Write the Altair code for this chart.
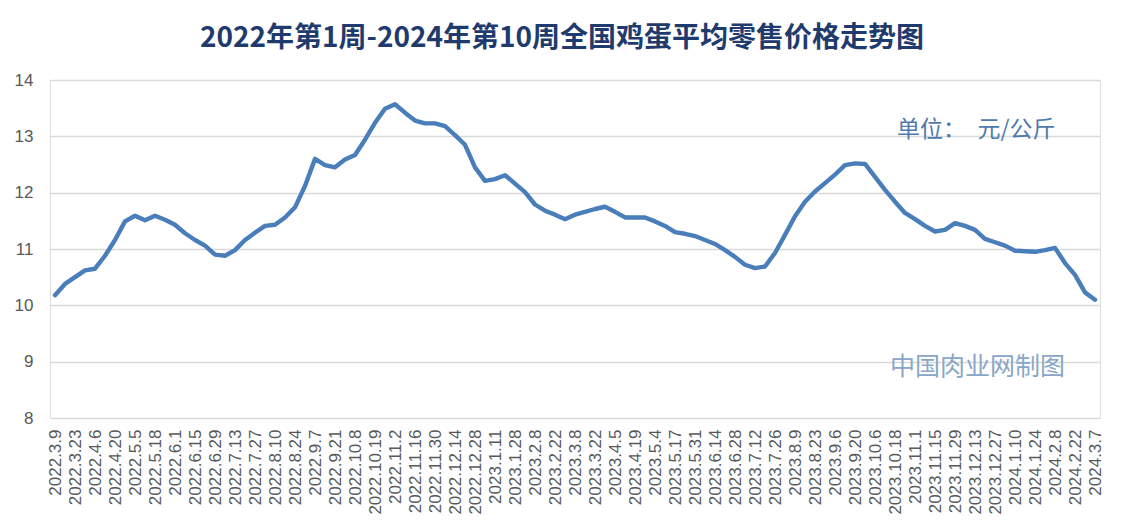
import json
import altair as alt
import pandas as pd

# Tick labels shown on the category axis (every second week)
tick_labels = [
    "2022.3.9", "2022.3.23", "2022.4.6", "2022.4.20", "2022.5.5", "2022.5.18",
    "2022.6.1", "2022.6.15", "2022.6.29", "2022.7.13", "2022.7.27", "2022.8.10",
    "2022.8.24", "2022.9.7", "2022.9.21", "2022.10.8", "2022.10.19", "2022.11.2",
    "2022.11.16", "2022.11.30", "2022.12.14", "2022.12.28", "2023.1.11", "2023.1.28",
    "2023.2.8", "2023.2.22", "2023.3.8", "2023.3.22", "2023.4.5", "2023.4.19",
    "2023.5.4", "2023.5.17", "2023.5.31", "2023.6.14", "2023.6.28", "2023.7.12",
    "2023.7.26", "2023.8.9", "2023.8.23", "2023.9.6", "2023.9.20", "2023.10.6",
    "2023.10.18", "2023.11.1", "2023.11.15", "2023.11.29", "2023.12.13", "2023.12.27",
    "2024.1.10", "2024.1.24", "2024.2.8", "2024.2.22", "2024.3.7",
]

# Weekly national average retail egg price (yuan / kg), 105 weeks
prices = [
    10.18, 10.38, 10.50, 10.62, 10.65, 10.88, 11.16, 11.49, 11.59, 11.51,
    11.59, 11.52, 11.43, 11.28, 11.16, 11.06, 10.90, 10.88, 10.98, 11.16,
    11.29, 11.41, 11.43, 11.56, 11.74, 12.12, 12.60, 12.49, 12.45, 12.59,
    12.67, 12.94, 13.24, 13.49, 13.57, 13.42, 13.28, 13.23, 13.23, 13.18,
    13.02, 12.85, 12.45, 12.21, 12.24, 12.31, 12.16, 12.01, 11.79, 11.68,
    11.61, 11.53, 11.61, 11.66, 11.71, 11.75, 11.66, 11.56, 11.56, 11.56,
    11.49, 11.41, 11.30, 11.27, 11.23, 11.16, 11.09, 10.98, 10.86, 10.72,
    10.66, 10.69, 10.93, 11.25, 11.58, 11.84, 12.02, 12.17, 12.32, 12.49,
    12.52, 12.51, 12.28, 12.05, 11.84, 11.64, 11.53, 11.41, 11.31, 11.34,
    11.46, 11.41, 11.34, 11.18, 11.12, 11.06, 10.97, 10.96, 10.95, 10.98,
    11.02, 10.75, 10.54, 10.23, 10.10,
]

title_text = "2022年第1周-2024年第10周全国鸡蛋平均零售价格走势图"
unit_text = "单位：\u3000元/公斤"
source_text = "中国肉业网制图"

df = pd.DataFrame({"week": list(range(len(prices))), "price": prices})

label_expr = json.dumps(tick_labels) + "[round(datum.value / 2)]"

W, H = 1050, 338

x_enc = alt.X(
    "week:Q",
    scale=alt.Scale(domain=[-0.5, len(prices) - 0.5], nice=False, zero=False),
    axis=alt.Axis(
        values=list(range(0, len(prices), 2)),
        labelExpr=label_expr,
        labelAngle=-90,
        labelFontSize=17,
        labelFont="Liberation Sans",
        labelColor="#595959",
        labelPadding=11,
        labelOverlap=False,
        grid=False,
        ticks=False,
        domain=False,
        title=None,
    ),
)
y_enc = alt.Y(
    "price:Q",
    scale=alt.Scale(domain=[8, 14], nice=False, zero=False),
    axis=alt.Axis(
        values=[8, 9, 10, 11, 12, 13, 14],
        labelFontSize=17,
        labelFont="Liberation Sans",
        labelColor="#595959",
        labelPadding=17,
        grid=True,
        gridColor="#d9d9d9",
        gridWidth=1.5,
        ticks=False,
        domain=False,
        title=None,
    ),
)

line = alt.Chart(df).mark_line(
    color="#4a7ebb", strokeWidth=4.4, strokeJoin="round", strokeCap="round"
).encode(x=x_enc, y=y_enc)

unit = alt.Chart(pd.DataFrame({"t": [unit_text]})).mark_text(
    font="Noto Sans CJK SC", fontSize=23, color="#4f7aae", align="left", baseline="middle"
).encode(text="t:N", x=alt.value(847), y=alt.value(50))

source = alt.Chart(pd.DataFrame({"t": [source_text]})).mark_text(
    font="Noto Sans CJK SC", fontSize=25, color="#8aa6c8", align="left", baseline="middle"
).encode(text="t:N", x=alt.value(840), y=alt.value(287))

chart = alt.layer(line, unit, source).properties(
    width=W,
    height=H,
    title=alt.TitleParams(
        text=title_text,
        font="Noto Sans CJK SC",
        fontSize=28,
        fontWeight="bold",
        color="#1f3b6e",
        anchor="middle",
        dx=-13,
        offset=18,
    ),
    autosize=alt.AutoSizeParams(type="none"),
    padding={"left": 42, "top": 72, "right": 16, "bottom": 96},
).configure_view(stroke=None).configure(background="white")

chart.save("out.html", embed_options={"renderer": "svg", "actions": False})
